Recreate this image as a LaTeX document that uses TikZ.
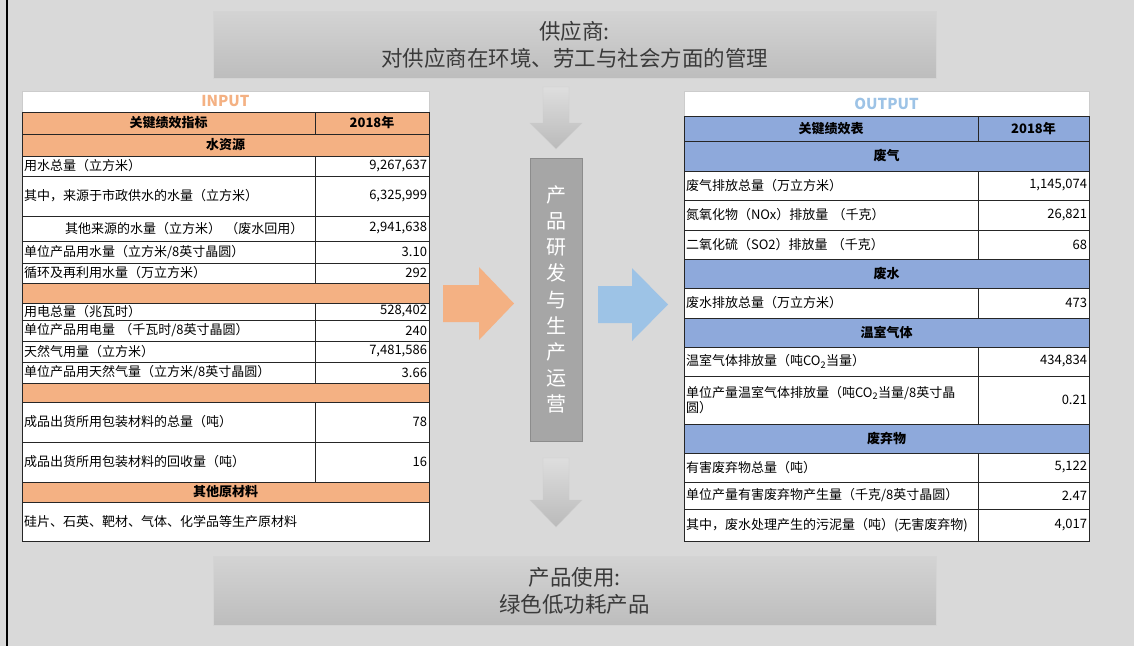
\documentclass[tikz,border=0pt]{standalone}
\usepackage{fontspec}
\setmainfont{Noto Sans CJK SC}
\usepackage{tikz}
\usetikzlibrary{positioning}
\definecolor{bggray}{HTML}{D9D9D9}
\definecolor{inorange}{HTML}{F4B183}
\definecolor{outblue}{HTML}{8EA9DB}
\definecolor{arrowblue}{HTML}{9DC3E6}
\definecolor{prodgray}{HTML}{A6A6A6}
\definecolor{textgray}{HTML}{3A3A3A}
\newcommand{\tblfont}{\fontsize{13}{15.5}\selectfont}
\tikzstyle{stagebox} = [rectangle, draw=black!17, top color=black!17, bottom color=black!26, minimum width=723pt, minimum height=67pt, align=center, text=textgray, font=\fontsize{21.5}{26.5}\selectfont]
\tikzstyle{prodbox} = [rectangle, draw=black!45, fill=prodgray, minimum width=52pt, minimum height=283pt, inner sep=0pt, align=center, text=white, font=\fontsize{20}{26.1}\selectfont]
\tikzstyle{grayarrow} = [top color=black!13, bottom color=black!27, draw=black!20]
\tikzstyle{cell} = [rectangle, draw=black!85, line width=0.7pt, fill=white, outer sep=0pt, inner xsep=2pt, inner ysep=0pt, font=\tblfont]
\tikzstyle{inkey} = [cell, text width=289pt, align=left]
\tikzstyle{inval} = [cell, text width=110pt, align=right]
\tikzstyle{inband} = [cell, fill=inorange, text width=403pt, align=center, font=\tblfont\bfseries]
\tikzstyle{outkey} = [cell, text width=290pt, align=left]
\tikzstyle{outval} = [cell, text width=107pt, align=right]
\tikzstyle{outband} = [cell, fill=outblue, text width=401pt, align=center, font=\tblfont\bfseries]
\tikzstyle{tabletitle} = [cell, draw=black!20, align=center, anchor=north west, font=\fontsize{15}{17}\selectfont\bfseries]

\begin{document}
\begin{tikzpicture}[x=1pt, y=-1pt]

        \useasboundingbox (0,0) rectangle (1134,646);
        \fill [bggray] (0,0) rectangle (1134,646);
        \draw [black, line width=1.5pt] (7,0) -- (7,646);

        \node (supplier) [stagebox] at (574.5,45) {供应商:\\对供应商在环境、劳工与社会方面的管理};
        \node (usage) [stagebox, minimum height=69pt] at (574.5,591) {产品使用:\\绿色低功耗产品};
        \node (production) [prodbox] at (556,299.5) {产\\品\\研\\发\\与\\生\\产\\运\\营};

        % block arrows
        \shade [grayarrow] (543,87) -- (569,87) -- (569,123) -- (582,123) -- (556,149) -- (530,123) -- (543,123) -- cycle;
        \shade [grayarrow] (543,458) -- (569,458) -- (569,500) -- (582,500) -- (556,527) -- (530,500) -- (543,500) -- cycle;
        \fill [inorange] (443,285) -- (479,285) -- (479,267) -- (514,303.5) -- (479,340) -- (479,322) -- (443,322) -- cycle;
        \fill [arrowblue] (598,286) -- (632,286) -- (632,268) -- (668,304.5) -- (632,341) -- (632,323) -- (598,323) -- cycle;

        % input table
        \node (inTitle) [tabletitle, text width=403pt, minimum height=21pt, text=inorange] at (22,91) {INPUT};
        \node (inHead) [inband, text width=289pt, below=0pt of inTitle.south west, anchor=north west, minimum height=22pt] {关键绩效指标};
        \node (inHeadYear) [inband, text width=110pt, right=0pt of inHead, minimum height=22pt] {2018年};
        \node (inWater) [inband, below=0pt of inHead.south west, anchor=north west, minimum height=22pt] {水资源};
        \node (inW1) [inkey, below=0pt of inWater.south west, anchor=north west, minimum height=20pt] {用水总量（立方米）};
        \node (inW1v) [inval, right=0pt of inW1, minimum height=20pt] {9,267,637};
        \node (inW2) [inkey, below=0pt of inW1.south west, anchor=north west, minimum height=40pt] {其中，来源于市政供水的水量（立方米）};
        \node (inW2v) [inval, right=0pt of inW2, minimum height=40pt] {6,325,999};
        \node (inW3) [inkey, below=0pt of inW2.south west, anchor=north west, minimum height=25pt] {\hspace*{41pt}其他来源的水量（立方米） （废水回用）};
        \node (inW3v) [inval, right=0pt of inW3, minimum height=25pt] {2,941,638};
        \node (inW4) [inkey, below=0pt of inW3.south west, anchor=north west, minimum height=22pt] {单位产品用水量（立方米/8英寸晶圆）};
        \node (inW4v) [inval, right=0pt of inW4, minimum height=22pt] {3.10};
        \node (inW5) [inkey, below=0pt of inW4.south west, anchor=north west, minimum height=20pt] {循环及再利用水量（万立方米）};
        \node (inW5v) [inval, right=0pt of inW5, minimum height=20pt] {292};
        \node (inEnergy) [inband, below=0pt of inW5.south west, anchor=north west, minimum height=20pt] {};
        \node (inE1) [inkey, below=0pt of inEnergy.south west, anchor=north west, minimum height=17pt] {用电总量（兆瓦时）};
        \node (inE1v) [inval, right=0pt of inE1, minimum height=17pt] {528,402};
        \node (inE2) [inkey, below=0pt of inE1.south west, anchor=north west, minimum height=21pt] {单位产品用电量 （千瓦时/8英寸晶圆）};
        \node (inE2v) [inval, right=0pt of inE2, minimum height=21pt] {240};
        \node (inE3) [inkey, below=0pt of inE2.south west, anchor=north west, minimum height=21pt] {天然气用量（立方米）};
        \node (inE3v) [inval, right=0pt of inE3, minimum height=21pt] {7,481,586};
        \node (inE4) [inkey, below=0pt of inE3.south west, anchor=north west, minimum height=21pt] {单位产品用天然气量（立方米/8英寸晶圆）};
        \node (inE4v) [inval, right=0pt of inE4, minimum height=21pt] {3.66};
        \node (inPack) [inband, below=0pt of inE4.south west, anchor=north west, minimum height=19pt] {};
        \node (inP1) [inkey, below=0pt of inPack.south west, anchor=north west, minimum height=40pt] {成品出货所用包装材料的总量（吨）};
        \node (inP1v) [inval, right=0pt of inP1, minimum height=40pt] {78};
        \node (inP2) [inkey, below=0pt of inP1.south west, anchor=north west, minimum height=40pt] {成品出货所用包装材料的回收量（吨）};
        \node (inP2v) [inval, right=0pt of inP2, minimum height=40pt] {16};
        \node (inOther) [inband, below=0pt of inP2.south west, anchor=north west, minimum height=20pt] {其他原材料};
        \node (inO1) [inkey, text width=403pt, below=0pt of inOther.south west, anchor=north west, minimum height=39pt] {硅片、石英、靶材、气体、化学品等生产原材料};

        % output table
        \node (outTitle) [tabletitle, text width=401pt, minimum height=25pt, text=arrowblue] at (684,91) {OUTPUT};
        \node (outHead) [outband, text width=290pt, below=0pt of outTitle.south west, anchor=north west, minimum height=25pt] {关键绩效表};
        \node (outHeadYear) [outband, text width=107pt, right=0pt of outHead, minimum height=25pt] {2018年};
        \node (outGas) [outband, below=0pt of outHead.south west, anchor=north west, minimum height=30pt] {废气};
        \node (outG1) [outkey, below=0pt of outGas.south west, anchor=north west, minimum height=29pt] {废气排放总量（万立方米）};
        \node (outG1v) [outval, right=0pt of outG1, minimum height=29pt] {1,145,074};
        \node (outG2) [outkey, below=0pt of outG1.south west, anchor=north west, minimum height=30pt] {氮氧化物（NOx）排放量 （千克）};
        \node (outG2v) [outval, right=0pt of outG2, minimum height=30pt] {26,821};
        \node (outG3) [outkey, below=0pt of outG2.south west, anchor=north west, minimum height=29pt] {二氧化硫（SO2）排放量 （千克）};
        \node (outG3v) [outval, right=0pt of outG3, minimum height=29pt] {68};
        \node (outWater) [outband, below=0pt of outG3.south west, anchor=north west, minimum height=29pt] {废水};
        \node (outW1) [outkey, below=0pt of outWater.south west, anchor=north west, minimum height=30pt] {废水排放总量（万立方米）};
        \node (outW1v) [outval, right=0pt of outW1, minimum height=30pt] {473};
        \node (outGhg) [outband, below=0pt of outW1.south west, anchor=north west, minimum height=29pt] {温室气体};
        \node (outH1) [outkey, below=0pt of outGhg.south west, anchor=north west, minimum height=29pt] {温室气体排放量（吨CO\textsubscript{2}当量）};
        \node (outH1v) [outval, right=0pt of outH1, minimum height=29pt] {434,834};
        \node (outH2) [outkey, below=0pt of outH1.south west, anchor=north west, minimum height=48pt] {单位产量温室气体排放量（吨CO\textsubscript{2}当量/8英寸晶\\圆）};
        \node (outH2v) [outval, right=0pt of outH2, minimum height=48pt] {0.21};
        \node (outSolid) [outband, below=0pt of outH2.south west, anchor=north west, minimum height=29pt] {废弃物};
        \node (outS1) [outkey, below=0pt of outSolid.south west, anchor=north west, minimum height=29pt] {有害废弃物总量（吨）};
        \node (outS1v) [outval, right=0pt of outS1, minimum height=29pt] {5,122};
        \node (outS2) [outkey, below=0pt of outS1.south west, anchor=north west, minimum height=27pt] {单位产量有害废弃物产生量（千克/8英寸晶圆）};
        \node (outS2v) [outval, right=0pt of outS2, minimum height=27pt] {2.47};
        \node (outS3) [outkey, below=0pt of outS2.south west, anchor=north west, minimum height=32pt] {其中，废水处理产生的污泥量（吨）(无害废弃物)};
        \node (outS3v) [outval, right=0pt of outS3, minimum height=32pt] {4,017};

\end{tikzpicture}
\end{document}
